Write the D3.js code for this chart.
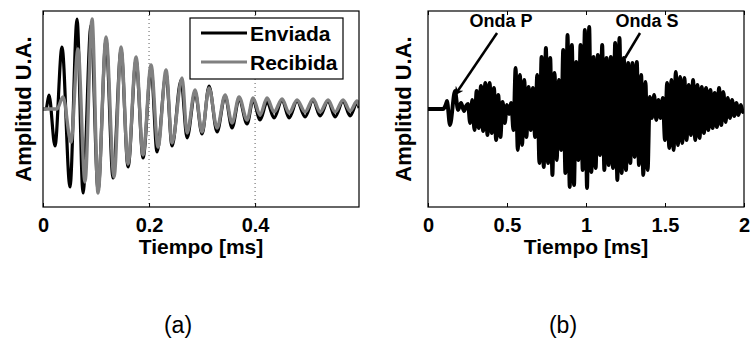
<!DOCTYPE html>
<meta charset="utf-8">
<script src="https://d3js.org/d3.v7.min.js"></script>
<style>
  body { margin: 0; background: #fff; }
  text { font-family: "Liberation Sans", Arial, sans-serif; }
</style>
<div id="figura"></div>
<script>

// (a) extremos de la señal enviada y recibida (tiempo en ms, amplitud U.A.)
var tiempoEnviada = [0, .0057, .0113, .0226, .0358, .0509, .0642, .0755, .0906, .1038, .1189, .1321, .1472, .1604,
  .1755, .1887, .2038, .2151, .2321, .2434, .2604, .2717, .2868, .3, .3132, .3283, .3434, .3566, .3698, .3849,
  .3962, .4094, .4226, .4358, .4509, .4642, .4792, .4943, .5094, .5226, .5377, .5509, .566, .5792, .5925, .5962];
var ampEnviada = [0, 0, 14, -37, 62, -78, 90, -84, 84, -81, 69, -69, 59, -58,
  49, -49, 41, -43, 35, -37, 29, -29, 17, -25, 23, -23, 13, -19, 10, -15,
  9, -11, 7, -9, 9, -9, 8, -8, 9, -7, 8, -8, 8, -7, 6, 1];

var tiempoRecibida = [0, .0264, .0377, .0528, .066, .0792, .0925, .1038, .1189, .134, .1472, .1604, .1755, .1887,
  .2038, .217, .2321, .2434, .2623, .2717, .2868, .3, .3132, .3283, .3434, .3566, .3698, .3849, .3962, .4094,
  .4226, .4358, .4509, .4642, .4792, .4943, .5094, .5226, .5377, .5509, .566, .5792, .5925, .5962];
var ampRecibida = [0, 0, 12, -33, 60, -73, 90, -84, 72, -68, 62, -55, 52, -46,
  44, -38, 39, -34, 31, -24, 19, -23, 21, -19, 14, -14, 12, -11, 11, -6,
  11, -3, 10, -4, 9, -3, 10, -3, 9, -3, 9, -2, 8, 3];

var ticksA = [0, 0.2, 0.4];

// (b) registro: llegada de la onda P y luego picos / valles por ciclo
var tiempoOndaP = [0, 0.095, 0.114, 0.120, 0.139, 0.171, 0.190, 0.209, 0.228, 0.241];
var ampOndaP = [0, 0, 5, 8, -16, 18, -1, 6, -2, 3];
var inicioB = 0.253, periodoB = 0.0274;
var picosB = [5, 9, 18, 23, 26, 26, 21, 14, 7, 4, 6, 41, 34, 29, 22, 21, 34, 52, 61, 51,
  36, 29, 59, 74, 64, 47, 64, 79, 82, 52, 54, 64, 51, 52, 66, 71, 51, 46, 46, 47,
  34, 27, 12, 14, 9, 11, 26, 29, 37, 32, 31, 24, 29, 24, 22, 21, 19, 16, 21, 17, 11, 9, 6, 4];
var vallesB = [-14, -21, -19, -22, -26, -24, -31, -28, -14, -5, -21, -41, -36, -28, -21, -28, -54, -58, -54, -66,
  -51, -41, -64, -78, -76, -51, -61, -79, -63, -59, -46, -61, -56, -59, -71, -64, -61, -54, -48, -56,
  -66, -61, -9, -11, -9, -31, -39, -41, -36, -34, -31, -26, -31, -29, -24, -21, -19, -18, -16, -13, -9, -7, -6, -3];

var ticksB = [0, 0.5, 1, 1.5, 2];

var width = 751, height = 339;
var svg = d3.select("#figura").append("svg")
  .attr("width", width).attr("height", height);

svg.append("defs").append("marker")
  .attr("id", "punta")
  .attr("viewBox", "0 0 10 10")
  .attr("refX", 9).attr("refY", 5)
  .attr("markerWidth", 9).attr("markerHeight", 9)
  .attr("markerUnits", "userSpaceOnUse")
  .attr("orient", "auto")
  .append("path").attr("d", "M0,0 L10,5 L0,10 L3,5 Z").attr("fill", "#000");

function panel(id, x0, x1, xmax, ticks, grid, etiqueta, ylabX) {
  var y0 = 11, y1 = 207;
  var x = d3.scaleLinear().domain([0, xmax]).range([x0, x1]);
  var y = d3.scaleLinear().domain([-98, 98]).range([y1, y0]);
  var g = svg.append("g");

  g.append("clipPath").attr("id", "clip" + id)
    .append("rect").attr("x", x0).attr("y", y0).attr("width", x1 - x0).attr("height", y1 - y0);

  // rejilla punteada
  g.selectAll(".grid").data(grid).enter().append("line")
    .attr("x1", x).attr("x2", x).attr("y1", y0).attr("y2", y1)
    .attr("stroke", "#333").attr("stroke-width", 0.8).attr("stroke-dasharray", "1,3");

  var zona = g.append("g").attr("clip-path", "url(#clip" + id + ")");

  // ejes abajo y arriba, ticks hacia dentro
  g.append("g").attr("transform", "translate(0," + y1 + ")")
    .call(d3.axisBottom(x).tickValues(ticks).tickSizeInner(-4).tickSizeOuter(0).tickPadding(11)
      .tickFormat(d3.format("")))
    .call(function(a) {
      a.select(".domain").remove();
      a.selectAll("line").attr("stroke", "#000");
      a.selectAll("text").attr("font-size", 20).attr("font-weight", "bold").attr("fill", "#000")
        .attr("font-family", "Liberation Sans, Arial, sans-serif");
    });
  g.append("g").attr("transform", "translate(0," + y0 + ")")
    .call(d3.axisTop(x).tickValues(ticks).tickSizeInner(-4).tickSizeOuter(0).tickFormat(""))
    .call(function(a) {
      a.select(".domain").remove();
      a.selectAll("line").attr("stroke", "#000");
    });

  g.append("rect").attr("x", x0).attr("y", y0).attr("width", x1 - x0).attr("height", y1 - y0)
    .attr("fill", "none").attr("stroke", "#000").attr("stroke-width", 1.2);

  g.append("text").attr("x", (x0 + x1) / 2).attr("y", 254)
    .attr("text-anchor", "middle").attr("font-size", 21).attr("font-weight", "bold")
    .text("Tiempo [ms]");
  g.append("text").attr("transform", "translate(" + ylabX + "," + ((y0 + y1) / 2) + ") rotate(-90)")
    .attr("text-anchor", "middle").attr("font-size", 22).attr("font-weight", "bold")
    .text("Amplitud U.A.");
  g.append("text").attr("x", (x0 + x1) / 2 - 23).attr("y", 333)
    .attr("text-anchor", "middle").attr("font-size", 23)
    .text(etiqueta);

  return {x: x, y: y, g: g, zona: zona};
}

var linea = function(p) {
  return d3.line().x(function(d) { return p.x(d[0]); }).y(function(d) { return p.y(d[1]); })
    .curve(d3.curveMonotoneX);
};

// panel (a)
var pa = panel("a", 43, 359, 0.596, ticksA, [0.2, 0.4], "(a)", 31);
var enviada = tiempoEnviada.map(function(t, i) { return [t, ampEnviada[i]]; });
var recibida = tiempoRecibida.map(function(t, i) { return [t, ampRecibida[i]]; });
pa.zona.append("path").datum(enviada).attr("d", linea(pa))
  .attr("fill", "none").attr("stroke", "#000").attr("stroke-width", 3.2);
pa.zona.append("path").datum(recibida).attr("d", linea(pa))
  .attr("fill", "none").attr("stroke", "#808080").attr("stroke-width", 3.4);

// leyenda
var ley = pa.g.append("g");
ley.append("rect").attr("x", 190).attr("y", 18).attr("width", 153).attr("height", 61)
  .attr("fill", "#fff").attr("stroke", "#000").attr("stroke-width", 1.2);
[["Enviada", "#000", 33], ["Recibida", "#808080", 62]].forEach(function(s) {
  ley.append("line").attr("x1", 201).attr("x2", 247).attr("y1", s[2]).attr("y2", s[2])
    .attr("stroke", s[1]).attr("stroke-width", 3.2);
  ley.append("text").attr("x", 250).attr("y", s[2] + 8).attr("font-size", 21).attr("font-weight", "bold")
    .text(s[0]);
});

// panel (b)
var pb = panel("b", 428, 744, 2, ticksB, [], "(b)", 411);
var registro = tiempoOndaP.map(function(t, i) { return [t, ampOndaP[i]]; });
picosB.forEach(function(v, i) {
  registro.push([inicioB + i * periodoB, v]);
  registro.push([inicioB + (i + 0.5) * periodoB, vallesB[i]]);
});
registro.push([2, 0]);
pb.zona.append("path").datum(registro).attr("d", linea(pb))
  .attr("fill", "none").attr("stroke", "#000").attr("stroke-width", 3.9)
  .attr("stroke-linejoin", "round");

// anotaciones onda P / onda S
[["Onda P", 0.462, 0.437, 76, 0.171, 14, true], ["Onda S", 1.386, 1.342, 76, 1.247, 51, false]].forEach(function(a) {
  pb.g.append("line")
    .attr("x1", pb.x(a[2])).attr("y1", pb.y(a[3])).attr("x2", pb.x(a[4])).attr("y2", pb.y(a[5]))
    .attr("stroke", "#000").attr("stroke-width", 2.5)
    .attr("marker-end", a[6] ? "url(#punta)" : null);
  pb.g.append("text").attr("x", pb.x(a[1])).attr("y", pb.y(82))
    .attr("text-anchor", "middle").attr("font-size", 18).attr("font-weight", "bold")
    .text(a[0]);
});

</script>
